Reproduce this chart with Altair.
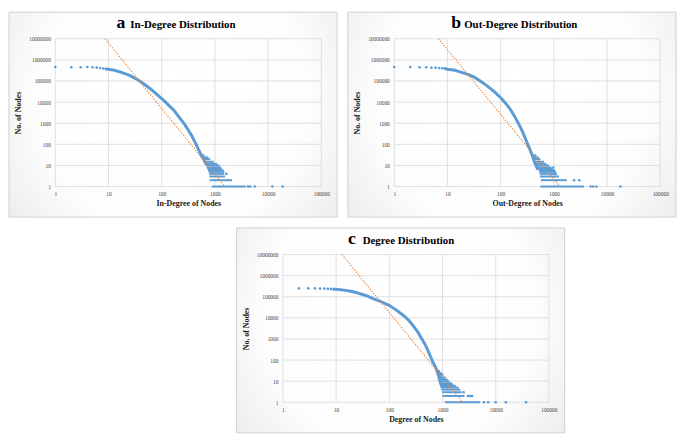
import altair as alt
import pandas as pd

# ---------------- shared axes ----------------
X_TICKS = [1, 10, 100, 1000, 10000, 100000]
Y_TICKS = [1, 10, 100, 1000, 10000, 100000, 1000000, 10000000]

# ---------------- panel a : In-Degree ----------------
A_HEAD_X = [1, 2, 3, 4, 5, 6, 7, 8]
A_HEAD_Y = [461000, 445000, 445000, 461000, 445000, 428000, 414000, 385000]
A_CURVE_X = [9, 10, 13, 18, 25, 36, 48, 64, 80, 100, 130, 171, 210, 262, 310, 372, 430, 490, 550, 612, 680]
A_CURVE_Y = [371000, 359000, 320000, 251000, 185000, 112000, 68000, 39000, 24000, 14700, 7800, 4000,
             2000, 980, 500, 240, 115, 58, 32, 20, 12]
A_ROW_Y = [30, 24, 20, 15, 12, 10, 8, 7, 6, 5, 4, 3, 2, 1]
A_ROW_X0 = [540, 570, 590, 620, 650, 680, 700, 720, 740, 760, 780, 790, 800, 870]
A_ROW_X1 = [640, 750, 820, 950, 1100, 1230, 1300, 1350, 1450, 1500, 1500, 1550, 2100, 3800]
A_PTS_X = [1650, 4200, 4600, 5600, 12000, 18700]
A_PTS_Y = [4, 1, 1, 1, 1, 1]
A_TREND_X = [8.6, 1550]
A_TREND_Y = [10000000, 1]

# ---------------- panel b : Out-Degree ----------------
B_HEAD_X = [1, 2, 3, 4, 5, 6, 7, 8]
B_HEAD_Y = [461000, 461000, 445000, 445000, 428000, 428000, 414000, 400000]
B_CURVE_X = [9, 10, 14, 19, 25, 31, 40, 55, 75, 100, 125, 148, 185, 225, 260, 298, 335, 369, 400, 425, 460, 490]
B_CURVE_Y = [385000, 360000, 320000, 250000, 200000, 158000, 105000, 60000, 32000, 16000, 8500, 5000,
             2000, 810, 380, 165, 80, 45, 26, 16, 10, 7]
B_ROW_Y = [30, 24, 20, 15, 12, 10, 8, 7, 6, 5, 4, 3, 2, 1]
B_ROW_X0 = [390, 400, 410, 430, 450, 480, 500, 510, 520, 530, 540, 550, 570, 560]
B_ROW_X1 = [470, 520, 560, 650, 720, 810, 900, 950, 1050, 1100, 1150, 1250, 1750, 3700]
B_PTS_X = [980, 1040, 2400, 3000, 4900, 5500, 6300, 17800]
B_PTS_Y = [8, 4, 2, 2, 1, 1, 1, 1]
B_TREND_X = [6.8, 1300]
B_TREND_Y = [10000000, 1]

# ---------------- panel c : Degree ----------------
C_HEAD_X = [2, 3, 4, 5, 6, 7, 8]
C_HEAD_Y = [250000, 250000, 250000, 243000, 243000, 235000, 235000]
C_CURVE_X = [9, 10, 14, 20, 26, 36, 52, 70, 100, 140, 184, 230, 282, 340, 400, 470, 535, 600, 665, 740, 820, 900]
C_CURVE_Y = [228000, 226000, 206000, 178000, 148000, 115000, 78000, 58000, 39000, 22000, 13000, 7800,
             4200, 2200, 1100, 550, 270, 140, 78, 45, 27, 13]
C_ROW_Y = [30, 24, 20, 15, 12, 10, 8, 7, 6, 5, 4, 3, 2, 1]
C_ROW_X0 = [740, 760, 780, 800, 820, 840, 860, 880, 900, 920, 950, 980, 1000, 1110]
C_ROW_X1 = [900, 980, 1050, 1150, 1250, 1350, 1500, 1600, 1800, 2000, 2150, 2300, 2600, 5100]
C_PTS_X = [2500, 3000, 3300, 3600, 6000, 7200, 10000, 15500, 37000]
C_PTS_Y = [3, 2, 2, 2, 1, 1, 1, 1, 1]
C_TREND_X = [12.9, 2400]
C_TREND_Y = [10000000, 1]

# ---------------- styling ----------------
FONT = "Liberation Serif, Times New Roman, serif"
BLUE = "#5b9bd5"
ORANGE = "#ed7d31"
GRID = "#d9d9d9"
W, H = 270, 150
L, R, T, B = 47, 16, 27, 31

GRAD = {
    "gradient": "radial",
    "x1": 0.5, "y1": 0.45, "r1": 0,
    "x2": 0.5, "y2": 0.45, "r2": 0.75,
    "stops": [
        {"offset": 0, "color": "#ffffff"},
        {"offset": 0.55, "color": "#fdfdfd"},
        {"offset": 1, "color": "#e3e3e3"},
    ],
}


def panel(letter, title, xtitle, hx, hy, cx, cy, ry, rx0, rx1, px, py, tx, ty, ldx, tdx):
    xs = alt.Scale(type="log", domain=[1, 100000], nice=False)
    ys = alt.Scale(type="log", domain=[1, 10000000], nice=False)
    one = pd.DataFrame({"k": [0]})

    x_axis = alt.Axis(
        values=X_TICKS, format="d", grid=False, domain=False, ticks=False,
        labelFont=FONT, labelFontSize=5.5, labelColor="#404040", labelPadding=5,
        labelFlush=False, labelOverlap=False,
        title=xtitle, titleFont=FONT, titleFontSize=8, titleFontWeight="bold",
        titleColor="#1a1a1a", titlePadding=3, zindex=1,
    )
    y_axis = alt.Axis(
        values=Y_TICKS, format="d", grid=False, domain=False, ticks=False,
        labelFont=FONT, labelFontSize=5.5, labelColor="#404040", labelPadding=5,
        labelOverlap=False,
        title="No. of Nodes", titleFont=FONT, titleFontSize=8, titleFontWeight="bold",
        titleColor="#1a1a1a", titlePadding=6, zindex=1,
    )

    def X(f):
        return alt.X(f, scale=xs, axis=x_axis)

    def Y(f):
        return alt.Y(f, scale=ys, axis=y_axis)

    bg = alt.Chart(one).mark_rect(fill=GRAD, stroke="#cfcfcf", strokeWidth=1).encode(
        x=alt.value(-L), x2=alt.value(W + R), y=alt.value(-T), y2=alt.value(H + B)
    )
    vgrid = alt.Chart(pd.DataFrame({"t": X_TICKS})).mark_rule(color=GRID, strokeWidth=0.8).encode(
        x=X("t:Q")
    )
    hgrid = alt.Chart(pd.DataFrame({"t": Y_TICKS})).mark_rule(color=GRID, strokeWidth=0.8).encode(
        y=Y("t:Q")
    )
    curve = alt.Chart(pd.DataFrame({"x": cx, "y": cy})).mark_line(
        color=BLUE, strokeWidth=3, strokeCap="round", strokeJoin="round"
    ).encode(x=X("x:Q"), y=Y("y:Q"))
    rows = alt.Chart(pd.DataFrame({"y": ry, "x0": rx0, "x1": rx1})).mark_rule(
        color=BLUE, strokeWidth=2
    ).encode(x=X("x0:Q"), x2="x1:Q", y=Y("y:Q"))
    head = alt.Chart(pd.DataFrame({"x": hx, "y": hy})).mark_circle(color=BLUE, size=7, opacity=1).encode(
        x=X("x:Q"), y=Y("y:Q")
    )
    pts = alt.Chart(pd.DataFrame({"x": px, "y": py})).mark_circle(color=BLUE, size=7, opacity=1).encode(
        x=X("x:Q"), y=Y("y:Q")
    )
    trend = alt.Chart(pd.DataFrame({"x": tx, "y": ty})).mark_line(
        color=ORANGE, strokeWidth=1.2, strokeDash=[1.2, 1.6]
    ).encode(x=X("x:Q"), y=Y("y:Q"))
    let = alt.Chart(one).mark_text(
        text=letter, font=FONT, fontSize=18, fontWeight="bold", align="left",
        baseline="alphabetic", color="#000000"
    ).encode(x=alt.value(ldx), y=alt.value(-11))
    ttl = alt.Chart(one).mark_text(
        text=title, font=FONT, fontSize=11, fontWeight="bold", align="left",
        baseline="alphabetic", color="#000000"
    ).encode(x=alt.value(tdx), y=alt.value(-11))

    return alt.layer(bg, vgrid, hgrid, curve, rows, head, pts, trend, let, ttl).properties(
        width=W, height=H
    )


pa = panel("a", "In-Degree Distribution", "In-Degree of Nodes",
           A_HEAD_X, A_HEAD_Y, A_CURVE_X, A_CURVE_Y, A_ROW_Y, A_ROW_X0, A_ROW_X1,
           A_PTS_X, A_PTS_Y, A_TREND_X, A_TREND_Y, 62, 76)
pb = panel("b", "Out-Degree Distribution", "Out-Degree of Nodes",
           B_HEAD_X, B_HEAD_Y, B_CURVE_X, B_CURVE_Y, B_ROW_Y, B_ROW_X0, B_ROW_X1,
           B_PTS_X, B_PTS_Y, B_TREND_X, B_TREND_Y, 58, 71)
pc = panel("c", "Degree Distribution", "Degree of Nodes",
           C_HEAD_X, C_HEAD_Y, C_CURVE_X, C_CURVE_Y, C_ROW_Y, C_ROW_X0, C_ROW_X1,
           C_PTS_X, C_PTS_Y, C_TREND_X, C_TREND_Y, 66, 81)

SPACER_W = 183
spacer = alt.Chart(pd.DataFrame({"k": [0]})).mark_rect(opacity=0).encode(
    x=alt.value(0), x2=alt.value(SPACER_W), y=alt.value(0), y2=alt.value(10)
).properties(width=SPACER_W, height=10)

top = alt.hconcat(pa, pb, spacing=9)
bottom = alt.hconcat(spacer, pc, spacing=0)
chart = alt.vconcat(top, bottom, spacing=9).properties(
    padding=0, background="white"
).configure_view(stroke=None)

chart.save("out.html", embed_options={"renderer": "svg", "actions": False})
